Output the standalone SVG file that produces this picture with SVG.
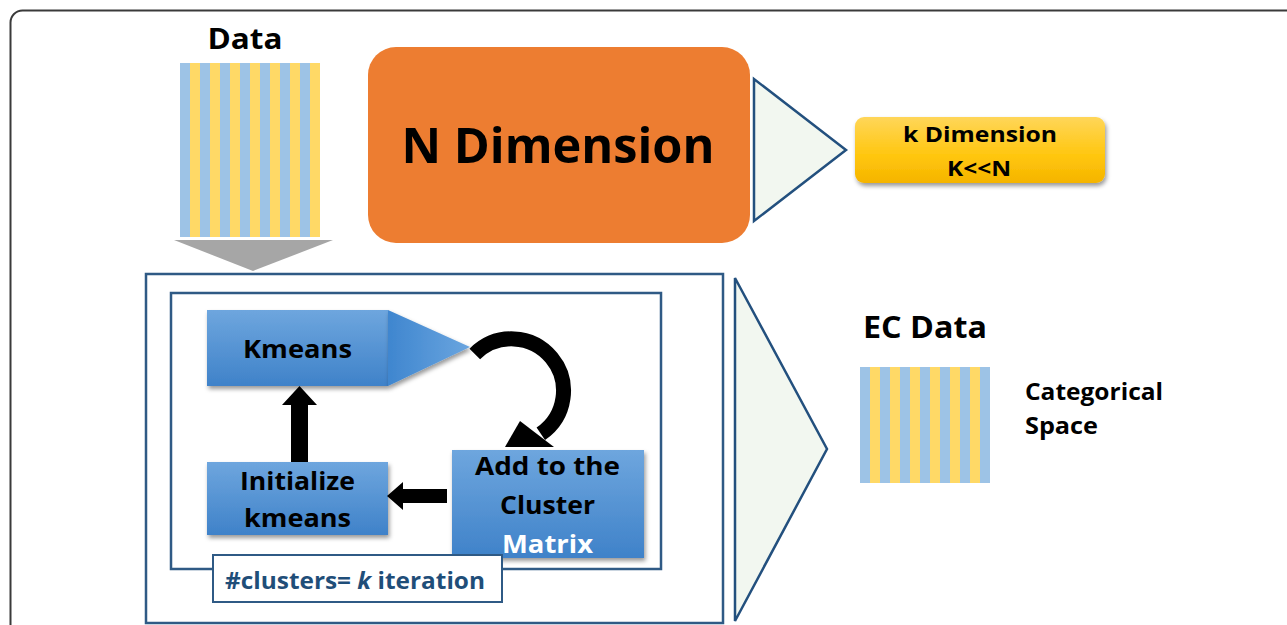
<svg xmlns="http://www.w3.org/2000/svg" width="1287" height="625" viewBox="0 0 1287 625">
<defs>
<style>
.t{font-family:"Open Sans","Liberation Sans",sans-serif;font-weight:bold;fill:#000}
.w{fill:#fff}
.nav{fill:#1f4e79}
.frame{fill:none;stroke:#2f5a85;stroke-width:2.5}
.tri{fill:#f2f7f0;stroke:#23507e;stroke-width:2.5;stroke-linejoin:miter}
.blue{fill:url(#gBlue);filter:url(#sh)}
.sb{fill:#9dc3e6}
.sy{fill:#ffd966}
</style>
<linearGradient id="gBlue" x1="0" y1="0" x2="0" y2="1">
<stop offset="0" stop-color="#6ea6de"/>
<stop offset="1" stop-color="#3f82c9"/>
</linearGradient>
<linearGradient id="gTri" x1="0" y1="0" x2="1" y2="0">
<stop offset="0" stop-color="#3f86cf"/>
<stop offset="1" stop-color="#6aa5df"/>
</linearGradient>
<linearGradient id="gYel" x1="0" y1="0" x2="0" y2="1">
<stop offset="0" stop-color="#ffd659"/>
<stop offset="0.6" stop-color="#ffc60d"/>
<stop offset="1" stop-color="#f5b400"/>
</linearGradient>
<filter id="sh" x="-10%" y="-10%" width="130%" height="140%">
<feDropShadow dx="1.5" dy="3" stdDeviation="2" flood-color="#000" flood-opacity="0.4"/>
</filter>
<pattern id="stripesD" x="180" y="0" width="20" height="10" patternUnits="userSpaceOnUse">
<rect x="0" y="0" width="10" height="10" class="sb"/>
<rect x="10" y="0" width="10" height="10" class="sy"/>
</pattern>
<pattern id="stripesE" x="860" y="0" width="20" height="10" patternUnits="userSpaceOnUse">
<rect x="0" y="0" width="10" height="10" class="sb"/>
<rect x="10" y="0" width="10" height="10" class="sy"/>
</pattern>
</defs>

<rect x="10.5" y="10.5" width="1320" height="700" rx="12" fill="#fff" stroke="#3a3a3a" stroke-width="2"/>

<g id="data">
<text class="t" x="245" y="49" font-size="29" text-anchor="middle" textLength="75" lengthAdjust="spacingAndGlyphs">Data</text>
<rect x="180" y="63" width="140" height="174" fill="url(#stripesD)"/>
</g>

<g id="n-dimension">
<rect x="368" y="47" width="382" height="196" rx="28" fill="#ed7d31"/>
<text class="t" x="558" y="163" font-size="49" text-anchor="middle" textLength="313" lengthAdjust="spacingAndGlyphs">N Dimension</text>
</g>

<g id="k-dimension">
<rect x="855" y="117" width="250" height="66" rx="9" fill="url(#gYel)" filter="url(#sh)"/>
<text class="t" x="980" y="142" font-size="21" text-anchor="middle" textLength="154" lengthAdjust="spacingAndGlyphs">k Dimension</text>
<text class="t" x="979" y="176" font-size="21" text-anchor="middle" textLength="64" lengthAdjust="spacingAndGlyphs">K&lt;&lt;N</text>
</g>

<g id="outer-box">
<rect x="146" y="274" width="577" height="349" fill="#eef5ea" class="frame"/>
<rect x="171" y="293" width="490" height="276" class="frame"/>
</g>

<g id="kmeans">
<rect x="207" y="310" width="181" height="76" class="blue"/>
<polygon points="388,310 470,347 388,386" fill="url(#gTri)" filter="url(#sh)"/>
<text class="t" x="297.5" y="358" font-size="25" text-anchor="middle" textLength="109" lengthAdjust="spacingAndGlyphs">Kmeans</text>
</g>

<g id="initialize">
<rect x="207" y="462" width="181" height="73" class="blue"/>
<text class="t" x="297.5" y="490" font-size="25" text-anchor="middle" textLength="115" lengthAdjust="spacingAndGlyphs">Initialize</text>
<text class="t" x="297.5" y="527" font-size="25" text-anchor="middle" textLength="107" lengthAdjust="spacingAndGlyphs">kmeans</text>
</g>

<g id="add-cluster">
<rect x="452" y="450" width="192" height="108" class="blue"/>
<text class="t" x="547.5" y="475" font-size="25" text-anchor="middle" textLength="145" lengthAdjust="spacingAndGlyphs">Add to the</text>
<text class="t" x="547.5" y="514" font-size="25" text-anchor="middle" textLength="95" lengthAdjust="spacingAndGlyphs">Cluster</text>
<text class="t w" x="547.5" y="553" font-size="25" text-anchor="middle" textLength="91" lengthAdjust="spacingAndGlyphs">Matrix</text>
</g>

<g id="iteration-label">
<rect x="213" y="555" width="289" height="47" fill="#fff" stroke="#2f5a85" stroke-width="2"/>
<text class="t nav" x="225" y="589" font-size="23" textLength="260" lengthAdjust="spacingAndGlyphs">#clusters= <tspan font-style="italic">k</tspan> iteration</text>
</g>

<g id="ec-data">
<text class="t" x="863" y="338" font-size="30" textLength="124" lengthAdjust="spacingAndGlyphs">EC Data</text>
<rect x="860" y="367" width="130" height="116" fill="url(#stripesE)"/>
<text class="t" x="1025" y="400" font-size="24" textLength="138" lengthAdjust="spacingAndGlyphs">Categorical</text>
<text class="t" x="1025" y="434" font-size="24" textLength="73" lengthAdjust="spacingAndGlyphs">Space</text>
</g>

<g id="connectors">
<polygon points="174,240 333,240 253,271" fill="#a6a6a6"/>
<polygon points="754,79 754,221 846,150" class="tri"/>
<polygon points="735,278 735,621 827,449" class="tri"/>
<polygon points="291,462 291,405 282,405 299.5,386 317,405 308,405 308,462" fill="#000"/>
<polygon points="447,489 403,489 403,482 387,496 403,510 403,503 447,503" fill="#000"/>
<path d="M474.8,354 A52,52 0 1 1 540.8,433.8" fill="none" stroke="#000" stroke-width="15"/>
<polygon points="520,421 554,447 505,447" fill="#000"/>
</g>
</svg>
